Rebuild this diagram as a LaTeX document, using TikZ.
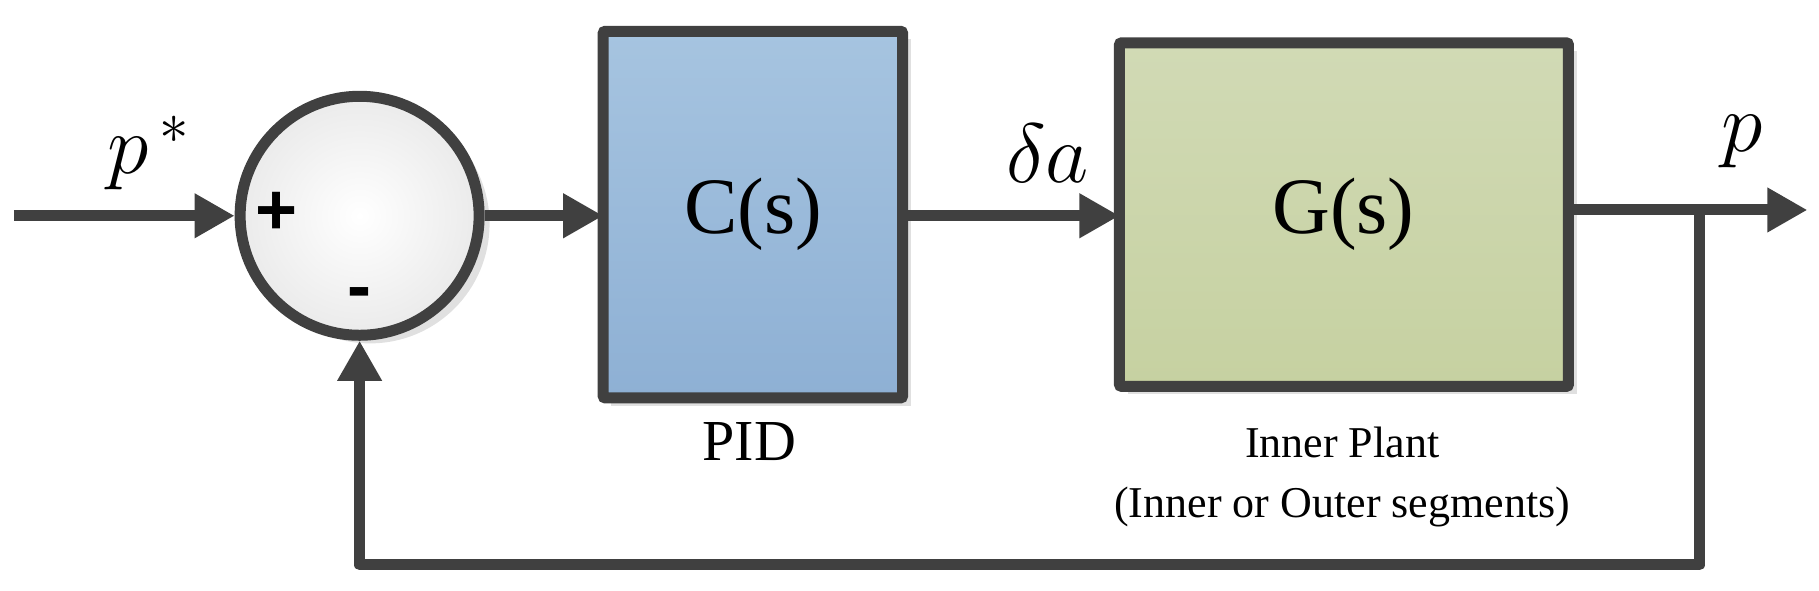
\RequirePackage{fix-cm}
\documentclass[tikz,border=0pt]{standalone}
\usepackage{fontspec}
\setmainfont{Liberation Serif}
\setsansfont{Liberation Sans}
\usetikzlibrary{arrows.meta}
\definecolor{ln}{HTML}{404040}
\begin{document}
\begin{tikzpicture}[x=1.16pt,y=-1.16pt,
  wire/.style={draw=ln,line width=11pt},
  arr/.style={wire,-{Triangle[length=40pt,width=42pt]}},
  blk/.style={draw=ln,line width=11pt,rounded corners=2pt,inner sep=0pt}]
\useasboundingbox (0,0) rectangle (1568,508.6);
\fill[black!12] (319,193) circle (103);
\node[circle,minimum size=206*1.16pt,draw=ln,line width=11pt,inner color=white,outer color=black!8] (sum) at (310,186) {};
\fill[black!12] (527,34) rectangle (785,350);
\fill[black!12] (972,44) rectangle (1359,340);
\draw[blk,top color={rgb,255:red,166;green,196;blue,224},bottom color={rgb,255:red,142;green,176;blue,212}] (520,27) rectangle (778,343);
\node (C) at (649,185) {\fontsize{80}{84}\selectfont C(s)};
\coordinate (Cw) at (520,186); \coordinate (Ce) at (778,186);
\draw[blk,top color={rgb,255:red,209;green,218;blue,181},bottom color={rgb,255:red,198;green,209;blue,161}] (965,37) rectangle (1352,333);
\node (G) at (1158,185) {\fontsize{80}{84}\selectfont G(s)};
\coordinate (Gw) at (965,186); \coordinate (Ge) at (1352,181);
\coordinate (in) at (12,186);
\coordinate (out) at (1558,181);
\coordinate (br) at (1465,181);
\coordinate (b1) at (1465,487);
\coordinate (b2) at (310,487);
\draw[arr] (in) -- (sum.west);
\draw[arr] (sum.east) -- (Cw);
\draw[arr] (Ce) -- (Gw);
\draw[arr] (Ge) -- (out);
\draw[wire,line join=round] (br) -- (b1) -- (b2) -- (310,400);
\draw[arr] (b2) -- (sum.south);
\node (ps) at (128,132) {\fontsize{84}{88}\selectfont $p^{\,*}$};
\node (pp) at (1502,122) {\fontsize{84}{88}\selectfont $p$};
\node (da) at (903,132) {\fontsize{84}{88}\selectfont $\delta a$};
\node (plus) at (238,184) {\fontsize{72}{72}\selectfont\sffamily\bfseries +};
\node (minus) at (310,258) {\fontsize{72}{72}\selectfont\sffamily\bfseries -};
\node (pid) at (646,381) {\fontsize{58}{60}\selectfont PID};
\node (ip) at (1157,381) {\fontsize{44}{48}\selectfont Inner Plant};
\node (ios) at (1157,437) {\fontsize{44}{48}\selectfont (Inner or Outer segments)};
\end{tikzpicture}
\end{document}
